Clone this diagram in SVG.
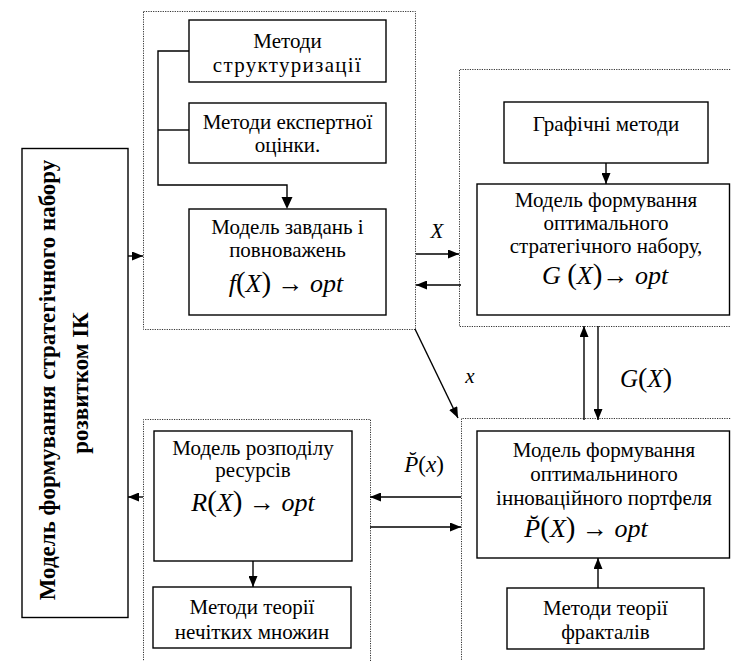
<svg xmlns="http://www.w3.org/2000/svg" width="731" height="661" viewBox="0 0 731 661">
<style>
.box{fill:#fff;stroke:#000;stroke-width:1.4}
.dot{fill:none;stroke:#333;stroke-width:1;stroke-dasharray:1.2,1.2}
.ln{fill:none;stroke:#000;stroke-width:1.4}
.t{font-family:"Liberation Serif","Times New Roman",serif;font-size:21px;fill:#000;text-anchor:middle}
.tb{font-family:"Liberation Serif","Times New Roman",serif;font-size:23px;font-weight:bold;fill:#000;text-anchor:middle}
.m{font-family:"Liberation Serif","Times New Roman",serif;font-size:26px;fill:#000;text-anchor:middle}
.i{font-style:italic}
.p{font-size:29px}
</style>
<defs>
<marker id="ah" viewBox="0 0 11 9" refX="11" refY="4.5" markerWidth="11" markerHeight="9" markerUnits="userSpaceOnUse" orient="auto">
<path d="M0,0 L11,4.5 L0,9 Z" fill="#000"/>
</marker>
</defs>
<rect width="731" height="661" fill="#fff"/>

<g id="frames">
<rect class="dot" x="143.5" y="11.5" width="272" height="318"/>
<path class="dot" d="M735,69.5 H459.5 V326.5 H735"/>
<path class="dot" d="M735,418.5 H461.5 V665"/>
<path class="dot" d="M143.5,665 V419.5 H370.5 V665"/>
</g>

<g id="connectors">
<path class="ln" d="M189,51 H158 V185 H287 V198"/>
<path class="ln" d="M158,130 H189"/>
<path d="M281.5,197 L292.5,197 L287,209 Z" fill="#000"/>
<line class="ln" x1="128" y1="256" x2="143" y2="256" marker-end="url(#ah)"/>
<line class="ln" x1="143" y1="497" x2="128" y2="497" marker-end="url(#ah)"/>
<line class="ln" x1="416" y1="254" x2="459" y2="254" marker-end="url(#ah)"/>
<line class="ln" x1="461" y1="285" x2="416" y2="285" marker-end="url(#ah)"/>
<line class="ln" x1="606" y1="163" x2="606" y2="184" marker-end="url(#ah)"/>
<line class="ln" x1="415" y1="329" x2="458" y2="418" marker-end="url(#ah)"/>
<line class="ln" x1="584" y1="420" x2="584" y2="326" marker-end="url(#ah)"/>
<line class="ln" x1="598" y1="326" x2="598" y2="420" marker-end="url(#ah)"/>
<line class="ln" x1="461" y1="497" x2="370" y2="497" marker-end="url(#ah)"/>
<line class="ln" x1="370" y1="527" x2="461" y2="527" marker-end="url(#ah)"/>
<line class="ln" x1="253" y1="561" x2="253" y2="587" marker-end="url(#ah)"/>
<line class="ln" x1="598" y1="588" x2="598" y2="558" marker-end="url(#ah)"/>
<text class="m i" x="437" y="238" style="font-size:21px">X</text>
<text class="m i" x="470" y="383" style="font-size:21px">x</text>
<text class="m" x="646" y="387" style="font-size:25px"><tspan class="i">G</tspan><tspan style="font-size:28px">(</tspan><tspan class="i">X</tspan><tspan style="font-size:28px">)</tspan></text>
<text class="m" x="424" y="472" style="font-size:23px"><tspan class="i">P̆</tspan><tspan>(</tspan><tspan class="i">x</tspan><tspan>)</tspan></text>
</g>

<g id="main">
<rect class="box" x="22" y="148.5" width="106" height="469"/>
<text class="tb" transform="translate(55,380) rotate(-90)">Модель формування стратегічного набору</text>
<text class="tb" transform="translate(88,383) rotate(-90)">розвитком ІК</text>
</g>

<g id="struct">
<rect class="box" x="189" y="20" width="197" height="62"/>
<text class="t" x="287.5" y="48">Методи</text>
<text class="t" x="287.5" y="72" letter-spacing="1.3">структуризації</text>
</g>

<g id="expert">
<rect class="box" x="189" y="103" width="197" height="60"/>
<text class="t" x="287.5" y="129">Методи експертної</text>
<text class="t" x="287.5" y="152">оцінки.</text>
</g>

<g id="tasks">
<rect class="box" x="189" y="209" width="197" height="106"/>
<text class="t" x="287.5" y="234">Модель завдань і</text>
<text class="t" x="287.5" y="257">повноважень</text>
<text class="m" x="286" y="292"><tspan class="i">f</tspan><tspan class="p">(</tspan><tspan class="i">X</tspan><tspan class="p">)</tspan> → <tspan class="i">opt</tspan></text>
</g>

<g id="graphic">
<rect class="box" x="504" y="102" width="204" height="61"/>
<text class="t" x="606" y="131">Графічні методи</text>
</g>

<g id="strategic">
<rect class="box" x="477" y="184" width="252.5" height="131"/>
<text class="t" x="606" y="207">Модель формування</text>
<text class="t" x="606" y="230">оптимального</text>
<text class="t" x="606" y="253">стратегічного набору,</text>
<text class="m" x="605" y="284"><tspan class="i">G</tspan> <tspan class="p">(</tspan><tspan class="i">X</tspan><tspan class="p">)</tspan>→ <tspan class="i">opt</tspan></text>
</g>

<g id="portfolio">
<rect class="box" x="477" y="431" width="252.5" height="127"/>
<text class="t" x="604" y="457">Модель формування</text>
<text class="t" x="604" y="481">оптимальниного</text>
<text class="t" x="604" y="505">інноваційного портфеля</text>
<text class="m" x="586" y="537"><tspan class="i">P̆</tspan><tspan class="p">(</tspan><tspan class="i">X</tspan><tspan class="p">)</tspan> → <tspan class="i">opt</tspan></text>
</g>

<g id="fractals">
<rect class="box" x="507" y="588" width="197" height="61"/>
<text class="t" x="605.5" y="615">Методи теорії</text>
<text class="t" x="605.5" y="639">фракталів</text>
</g>

<g id="resources">
<rect class="box" x="154" y="431" width="198" height="130"/>
<text class="t" x="253" y="455">Модель розподілу</text>
<text class="t" x="253" y="477">ресурсів</text>
<text class="m" x="253" y="511"><tspan class="i">R</tspan><tspan class="p">(</tspan><tspan class="i">X</tspan><tspan class="p">)</tspan> → <tspan class="i">opt</tspan></text>
</g>

<g id="fuzzy">
<rect class="box" x="153" y="587" width="198" height="61"/>
<text class="t" x="252" y="614">Методи теорії</text>
<text class="t" x="252" y="639">нечітких множин</text>
</g>
</svg>
